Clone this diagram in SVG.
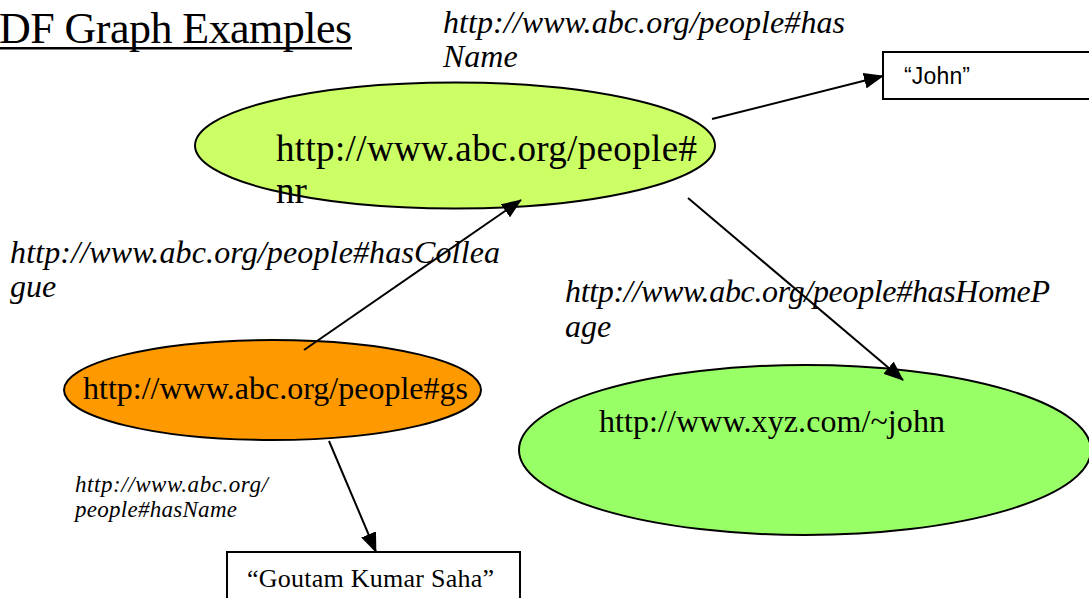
<svg xmlns="http://www.w3.org/2000/svg" width="1089" height="598" viewBox="0 0 1089 598">
<style>
.node{stroke:#000;stroke-width:2}
.box{fill:#fff;stroke:#000;stroke-width:2}
.serif{font-family:"Liberation Serif","Times New Roman",serif;fill:#000}
.lbl{font-family:"Liberation Serif","Times New Roman",serif;font-style:italic;fill:#000}
.sans{font-family:"Liberation Sans",Arial,sans-serif;fill:#000}
.edge{stroke:#000;stroke-width:2;fill:none;marker-end:url(#arr)}
</style>
<defs>
<marker id="arr" markerUnits="userSpaceOnUse" markerWidth="20" markerHeight="16" refX="19" refY="8" orient="auto">
<path d="M0,0 L20,8 L0,16 Z" fill="#000"/>
</marker>
</defs>
<rect width="1089" height="598" fill="#fff"/>
<g id="title">
<text class="serif" x="-1" y="43" font-size="44" textLength="353">DF Graph Examples</text>
<rect x="0" y="47" width="352" height="2.5" fill="#000"/>
</g>
<g id="node-nr">
<ellipse class="node" cx="455" cy="145.5" rx="260" ry="63" fill="#CCFF66"/>
<text class="serif" x="276" y="161" font-size="37" textLength="421">http://www.abc.org/people#</text>
<text class="serif" x="276" y="203" font-size="37">nr</text>
</g>
<g id="node-gs">
<ellipse class="node" cx="272.5" cy="390" rx="208.5" ry="50" fill="#FF9900"/>
<text class="serif" x="83" y="399" font-size="32" textLength="385">http://www.abc.org/people#gs</text>
</g>
<g id="node-john-home">
<ellipse class="node" cx="805" cy="450" rx="286" ry="85" fill="#99FF66"/>
<text class="serif" x="599" y="432" font-size="32" textLength="346">http://www.xyz.com/~john</text>
</g>
<g id="node-john">
<rect class="box" x="883" y="52" width="220" height="47"/>
<text class="sans" x="904" y="84" font-size="23" textLength="66">“John”</text>
</g>
<g id="node-goutam">
<rect class="box" x="227" y="552" width="293" height="60"/>
<text class="serif" x="247" y="587" font-size="26" textLength="247">“Goutam Kumar Saha”</text>
</g>
<g id="connectors">
<line class="edge" x1="712" y1="119" x2="883" y2="76"/>
<line class="edge" x1="304" y1="350" x2="521" y2="200"/>
<line class="edge" x1="688" y1="198" x2="903" y2="380"/>
<line class="edge" x1="329" y1="441" x2="376" y2="552"/>
</g>
<g id="labels">
<text class="lbl" x="443" y="33" font-size="32" textLength="402">http://www.abc.org/people#has</text>
<text class="lbl" x="443" y="67" font-size="32">Name</text>
<text class="lbl" x="10" y="263" font-size="32" textLength="490">http://www.abc.org/people#hasCollea</text>
<text class="lbl" x="10" y="297" font-size="32">gue</text>
<text class="lbl" x="565" y="302" font-size="32" textLength="485">http://www.abc.org/people#hasHomeP</text>
<text class="lbl" x="565" y="337" font-size="32">age</text>
<text class="lbl" x="75" y="492" font-size="23" textLength="193">http://www.abc.org/</text>
<text class="lbl" x="75" y="517" font-size="23" textLength="162">people#hasName</text>
</g>
</svg>
